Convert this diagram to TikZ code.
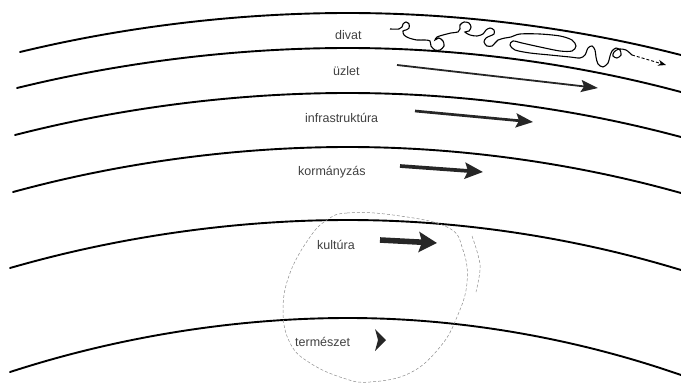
\documentclass[tikz,border=0pt]{standalone}
\usepackage{fontspec}
\setmainfont{Liberation Sans}
\usetikzlibrary{arrows.meta,positioning,calc}

\begin{document}
\begin{tikzpicture}[x=1pt, y=-1pt, every node/.style={font=\fontsize{12.5}{14}\selectfont, text=black!75, inner sep=0pt}]
    \tikzstyle{layer} = [draw=black, line width=1.9pt, line cap=round]
    \tikzstyle{layername} = [anchor=west]
    \tikzstyle{flow} = [draw=black!85, line cap=butt]
    \tikzstyle{halo} = [draw=black!45, densely dashed, line width=0.5pt]
    \tikzstyle{squiggle} = [draw=black, line width=1.1pt]

    \useasboundingbox (0,0) rectangle (681,389);

    % Rétegek
    \foreach \xl/\yl/\yp/\yr in {20/52/13/55, 17/88/48/92, 15/135/93/137, 13/192/147/193, 10/268/220/270, 10/372/318/375}
        \draw[layer] (\xl,\yl) parabola bend (348,\yp) (681,\yr);

    % Feliratok
    \node[layername] (divat) at (335,35) {divat};
    \node[layername] (uzlet) at (333,71) {üzlet};
    \node[layername] (infra) at (305,118) {infrastruktúra};
    \node[layername] (korm) at (298,172) {kormányzás};
    \node[layername] (kult) at (317,245) {kultúra};
    \node[layername] (term) at (295,342) {természet};

    % Nyilak
    \coordinate (uzs) at (397,65);   \coordinate (uze) at (598,88);
    \coordinate (ins) at (415,111);  \coordinate (ine) at (533,122);
    \coordinate (kos) at (400,166);  \coordinate (koe) at (483,172);
    \coordinate (kus) at (380,240);  \coordinate (kue) at (437,243);
    \coordinate (tee) at (386,340);
    \coordinate (dvs) at (632,55);   \coordinate (dve) at (666,65);

    \draw[flow, line width=1.8pt, -{Stealth[length=17pt,width=12pt,inset=3pt]}] (uzs) -- (uze);
    \draw[flow, line width=2.7pt, -{Stealth[length=17pt,width=14pt,inset=3pt]}] (ins) -- (ine);
    \draw[flow, line width=3.7pt, -{Stealth[length=18pt,width=16pt,inset=3pt]}] (kos) -- (koe);
    \draw[flow, line width=5.6pt, -{Stealth[length=18pt,width=20pt,inset=3pt]}] (kus) -- (kue);
    \fill[black!85] (tee) -- ++(-11,-11) -- ++(3,11) -- ++(-3,11) -- cycle;

    % divat
    \draw[squiggle] plot[smooth, tension=0.5] coordinates {(390,29) (399,29) (402,27) (403,24) (406,22) (409,24) (409,28) (406,30) (403,31) (404,35) (409,38) (417,40) (425,40) (430,41) (431,46) (435,50) (440,50) (444,46) (443,41) (439,38) (435,40) (437,37) (443,35) (451,33) (458,32) (460,29) (460,25) (464,22) (469,23) (471,27) (469,31) (465,32) (470,35) (477,36) (483,34) (486,30) (490,28) (494,30) (494,34) (490,36) (486,38) (484,42) (487,46) (492,46) (495,43) (498,40) (505,38) (511,37) (520,34) (540,34) (560,36) (572,40) (576,46) (572,51) (560,51) (540,47) (522,43) (513,41) (510,45) (515,50) (530,53) (550,55) (570,57) (580,58) (585,55) (588,48) (592,46) (595,50) (596,57) (598,64) (603,67) (608,63) (610,56) (612,51) (616,48) (620,50) (621,55) (617,58) (613,56) (614,52) (619,49) (626,50) (632,55)};
    \draw[squiggle, line width=0.9pt, densely dashed, -{Stealth[length=8pt,width=6pt]}] (dvs) -- (dve);

    % kultúra + természet
    \draw[halo] plot[smooth cycle, tension=0.7] coordinates {(327,220) (347,213) (393,215) (447,227) (463,250) (467,283) (457,317) (440,347) (410,373) (370,382) (343,378) (310,363) (290,343) (283,310) (290,273) (310,237)};
    \draw[halo] plot[smooth, tension=0.7] coordinates {(472,236) (478,255) (480,270) (476,292)};
\end{tikzpicture}
\end{document}
